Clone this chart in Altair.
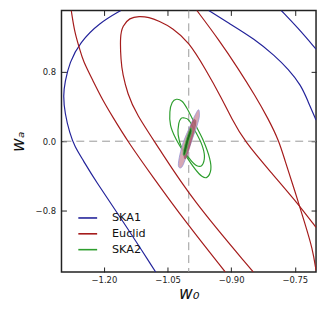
import altair as alt
import pandas as pd

# ---- values (w0, wa) ----
fid_w0 = [-1.0]
fid_wa = [0.0]

x_ticks = [-1.20, -1.05, -0.90, -0.75]
y_ticks = [-0.8, 0.0, 0.8]

surveys = ["SKA1", "Euclid", "SKA2"]
colors = ["#23239a", "#a51c1c", "#2e9e2e"]

# SKA1 contour pieces
ska1_a_w0 = [-1.160, -1.2105, -1.257, -1.281, -1.292, -1.296, -1.292, -1.2806, -1.269, -1.2495, -1.222, -1.1567, -1.078]
ska1_a_wa = [1.5, 1.359, 1.132, 0.905, 0.677, 0.526, 0.318, 0.091, -0.061, -0.213, -0.440, -0.906, -1.5]
ska1_b_w0 = [-0.953, -0.907, -0.844, -0.7975, -0.766, -0.735, -0.720, -0.700]
ska1_b_wa = [1.5, 1.359, 1.170, 0.981, 0.830, 0.640, 0.469, 0.242]
ska1_c_w0 = [-0.782, -0.743, -0.700]
ska1_c_wa = [1.5, 1.302, 1.057]

# Euclid contour pieces
euc_in_w0 = [-0.848, -0.993, -1.0702, -1.1247, -1.1443, -1.156, -1.160, -1.162, -1.156, -1.140, -1.117,
             -1.094, -1.070, -1.039, -1.000, -0.961, -0.922, -0.899, -0.869, -0.805, -0.751, -0.700]
euc_in_wa = [-1.5, -0.667, -0.080, 0.318, 0.545, 0.773, 0.924, 1.208, 1.322, 1.416, 1.435,
             1.424, 1.378, 1.302, 1.140, 0.830, 0.489, 0.261, 0.0, -0.364, -0.667, -0.989]
euc_outL_w0 = [-1.277, -1.269, -1.257, -1.2495, -1.2261, -1.2028, -1.1794, -1.1443, -1.0859, -1.0095, -0.914]
euc_outL_wa = [1.5, 1.245, 1.057, 0.924, 0.697, 0.469, 0.2795, 0.0, -0.402, -0.914, -1.5]
euc_outR_w0 = [-0.981, -0.930, -0.883, -0.844, -0.813, -0.787, -0.774, -0.751, -0.727, -0.708, -0.700]
euc_outR_wa = [1.5, 1.170, 0.830, 0.526, 0.261, 0.0, -0.213, -0.553, -0.932, -1.235, -1.485]

# SKA2 contours (closed)
ska2_out_w0 = [-1.029, -1.016, -1.004, -0.984, -0.965, -0.951, -0.948, -0.957, -0.969, -0.984,
               -1.008, -1.031, -1.043, -1.0445, -1.039]
ska2_out_wa = [0.481, 0.458, 0.375, 0.185, 0.0, -0.193, -0.326, -0.414, -0.402, -0.326,
               -0.156, 0.034, 0.185, 0.336, 0.443]
ska2_in_w0 = [-1.012, -1.000, -0.984, -0.969, -0.963, -0.969, -0.981, -0.996, -1.016, -1.025, -1.0235, -1.018]
ska2_in_wa = [0.268, 0.242, 0.109, -0.042, -0.175, -0.277, -0.281, -0.213, -0.080, 0.072, 0.205, 0.261]

# combined (filled) contours
comb_w0 = [-0.977, -0.975, -0.980, -0.991, -1.003, -1.013, -1.0195, -1.0245, -1.021, -1.012, -0.999, -0.986]
comb_wa = [0.361, 0.290, 0.185, 0.034, -0.136, -0.269, -0.307, -0.277, -0.156, 0.0, 0.148, 0.290]
mid_w0 = [-0.9845, -0.9836, -0.9960, -1.0048, -1.0095, -1.0110, -1.0020, -0.9908]
mid_wa = [0.245, 0.185, -0.042, -0.178, -0.201, -0.133, 0.072, 0.231]
best_w0 = [-0.995, -0.993, -1.000, -1.007, -1.012, -1.013, -1.007, -0.999]
best_wa = [0.155, 0.109, 0.0, -0.136, -0.164, -0.125, 0.0, 0.117]


def frame(pieces):
    rows = []
    for name, survey, xs, ys in pieces:
        for i, (a, b) in enumerate(zip(xs, ys)):
            rows.append({"w0": a, "wa": b, "curve": name, "survey": survey, "idx": i})
    return pd.DataFrame(rows)


open_df = frame([
    ("ska1_a", "SKA1", ska1_a_w0, ska1_a_wa),
    ("ska1_b", "SKA1", ska1_b_w0, ska1_b_wa),
    ("ska1_c", "SKA1", ska1_c_w0, ska1_c_wa),
    ("euc_in", "Euclid", euc_in_w0, euc_in_wa),
    ("euc_outL", "Euclid", euc_outL_w0, euc_outL_wa),
    ("euc_outR", "Euclid", euc_outR_w0, euc_outR_wa),
])
closed_df = frame([
    ("ska2_out", "SKA2", ska2_out_w0, ska2_out_wa),
    ("ska2_in", "SKA2", ska2_in_w0, ska2_in_wa),
])
comb_df = frame([("comb", "comb", comb_w0, comb_wa)])
mid_df = frame([("mid", "mid", mid_w0, mid_wa)])
best_df = frame([("best", "best", best_w0, best_wa)])

xs = alt.Scale(domain=[-1.3, -0.7], nice=False, zero=False)
ys = alt.Scale(domain=[-1.5, 1.5], nice=False, zero=False)

FONT = "DejaVu Sans"
tick_common = dict(offset=-5, tickSize=5, domain=False, grid=False, tickColor="#222", tickWidth=1)

x_axis = alt.Axis(orient="bottom", values=x_ticks, format=".2f", title="w₀", labelPadding=4,
                  labelFont=FONT, labelFontSize=8.5, labelColor="#222", labelFlush=False,
                  labelOverlap=False, titleFont=FONT, titleFontSize=17, titleFontStyle="italic",
                  titleFontWeight="normal", titleColor="#111", titlePadding=1, **tick_common)
y_axis = alt.Axis(orient="left", values=y_ticks, format=".1f", title="wₐ", labelPadding=6,
                  labelFont=FONT, labelFontSize=8.5, labelColor="#222", labelFlush=False,
                  labelOverlap=False, titleFont=FONT, titleFontSize=17, titleFontStyle="italic",
                  titleFontWeight="normal", titleColor="#111", titlePadding=8, **tick_common)
top_axis = alt.Axis(orient="top", values=x_ticks, labels=False, title=None, **tick_common)
right_axis = alt.Axis(orient="right", values=y_ticks, labels=False, title=None, **tick_common)

legend = alt.Legend(title=None, orient="none", legendX=16, legendY=199, symbolType="stroke",
                    symbolSize=361, symbolStrokeWidth=1.6, labelFont=FONT, labelFontSize=11.3,
                    labelColor="#111", labelOffset=14, rowPadding=0, padding=0, direction="vertical")
color_enc = alt.Color("survey:N", scale=alt.Scale(domain=surveys, range=colors), legend=legend)

dash = dict(color="#999999", strokeDash=[8, 5], strokeWidth=1)
vrule = alt.Chart(pd.DataFrame({"w0": fid_w0})).mark_rule(**dash).encode(
    x=alt.X("w0:Q", scale=xs, axis=top_axis))
hrule = alt.Chart(pd.DataFrame({"wa": fid_wa})).mark_rule(**dash).encode(
    y=alt.Y("wa:Q", scale=ys, axis=right_axis))

open_lines = alt.Chart(open_df).mark_line(interpolate="basis", strokeWidth=1.2, clip=True).encode(
    x=alt.X("w0:Q", scale=xs, axis=x_axis),
    y=alt.Y("wa:Q", scale=ys, axis=y_axis),
    color=color_enc,
    detail="curve:N",
    order=alt.Order("idx:Q"),
)
closed_lines = alt.Chart(closed_df).mark_line(interpolate="cardinal-closed", strokeWidth=1.2, clip=True).encode(
    x=alt.X("w0:Q", scale=xs, axis=None),
    y=alt.Y("wa:Q", scale=ys, axis=None),
    color=color_enc,
    detail="curve:N",
    order=alt.Order("idx:Q"),
)


def filled(df, fill, stroke, sw, op):
    return alt.Chart(df).mark_line(interpolate="cardinal-closed", fill=fill, fillOpacity=op,
                                   stroke=stroke, strokeWidth=sw, clip=True).encode(
        x=alt.X("w0:Q", scale=xs, axis=None),
        y=alt.Y("wa:Q", scale=ys, axis=None),
        order=alt.Order("idx:Q"),
    )


comb_fill = filled(comb_df, "#cf98a6", "#9896d6", 0.8, 0.85)
mid_fill = filled(mid_df, "#9a4055", "#9a4055", 0.3, 0.6)
best_fill = filled(best_df, "#1d6b1d", "#5fb85f", 0.8, 1.0)

chart = alt.layer(vrule, hrule, open_lines, closed_lines, comb_fill, mid_fill, best_fill).properties(
    width=257, height=264,
    autosize=alt.AutoSizeParams(type="none"),
    padding={"left": 54, "top": 1, "right": 4, "bottom": 45},
).configure_view(stroke="#222", strokeWidth=1.5)

chart.save("out.html", embed_options={"renderer": "svg", "actions": False})
